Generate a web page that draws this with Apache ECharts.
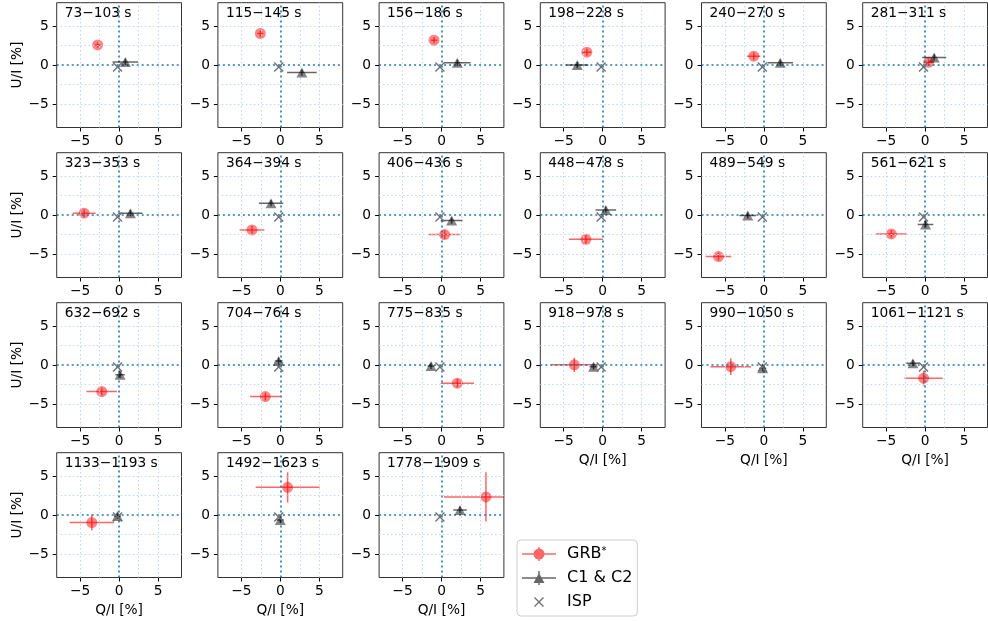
<!DOCTYPE html>
<html>
<head>
<meta charset="utf-8">
<script src="https://cdn.jsdelivr.net/npm/echarts@6/dist/echarts.min.js"></script>
<style>
html,body{margin:0;padding:0;background:#fff;}
#chart{width:988px;height:621px;}
</style>
</head>
<body>
<div id="chart"></div>
<script>
// ---- data ----
const panelLabels = ['73\u2212103 s','115\u2212145 s','156\u2212186 s','198\u2212228 s','240\u2212270 s','281\u2212311 s',
  '323\u2212353 s','364\u2212394 s','406\u2212436 s','448\u2212478 s','489\u2212549 s','561\u2212621 s',
  '632\u2212692 s','704\u2212764 s','775\u2212835 s','918\u2212978 s','990\u22121050 s','1061\u22121121 s',
  '1133\u22121193 s','1492\u22121623 s','1778\u22121909 s'];
const grbQ    = [-2.75,-2.56,-0.96,-2.03,-1.30, 0.45,-4.48,-3.63, 0.40,-2.15,-5.82,-4.33,-2.22,-1.92, 2.03,-3.64,-4.25,-0.19,-3.50, 0.94, 5.70];
const grbU    = [ 2.59, 4.05, 3.20, 1.66, 1.15, 0.35, 0.24,-1.90,-2.50,-3.10,-5.31,-2.41,-3.39,-4.03,-2.32, 0.03,-0.20,-1.68,-0.96, 3.56, 2.33];
const grbQerr = [ 0.35, 0.40, 0.40, 0.55, 0.85, 0.60, 1.47, 1.58, 2.03, 2.18, 1.64, 1.96, 1.96, 1.96, 2.13, 3.00, 2.60, 2.45, 2.84, 4.10, 5.38];
const grbUerr = [ 0.35, 0.40, 0.40, 0.45, 0.45, 0.45, 0.50, 0.50, 0.55, 0.55, 0.50, 0.50, 0.50, 0.50, 0.55, 0.90, 1.07, 0.96, 1.00, 1.94, 3.16];
const c12Q    = [ 0.80, 2.77, 2.03,-3.26, 2.10, 1.17, 1.45,-1.19, 1.30, 0.40,-2.07, 0.06, 0.13,-0.21,-1.34,-1.17,-0.15,-1.56,-0.21, 0.00, 2.37];
const c12U    = [ 0.41,-0.95, 0.30, 0.00, 0.30, 0.98, 0.24, 1.52,-0.70, 0.66,-0.05,-1.20,-1.25, 0.54,-0.10,-0.20,-0.40, 0.24,-0.10,-0.62, 0.66];
const c12Qerr = [ 1.64, 1.90, 1.70, 1.43, 1.64, 1.54, 1.56, 1.56, 1.40, 1.32, 1.07, 1.00, 0.60, 0.50, 0.45, 0.50, 0.45, 0.85, 0.45, 0.45, 0.87];
const c12Uerr = [ 0.40, 0.40, 0.40, 0.40, 0.40, 0.40, 0.40, 0.40, 0.40, 0.40, 0.40, 0.40, 0.40, 0.40, 0.40, 0.40, 0.40, 0.40, 0.40, 0.40, 0.40];
const ispQ = -0.2;
const ispU = -0.25;
const axisRange = [-8, 8];
const tickValues = [-5, 0, 5];
const gridValues = [-5, -2.5, 2.5, 5];
const xLabelText = 'Q/I [%]';
const yLabelText = 'U/I [%]';

// ---- layout ----
const colLeft = [56.7, 217.9, 379.1, 540.3, 701.5, 862.7];
const rowTop = [2.7, 152.7, 302.7, 452.7];
const size = 124.8;
const FONT = 'DejaVu Sans';
const FS = 13.75;
const nPanels = panelLabels.length;

const fmt = v => (v < 0 ? '\u2212' + Math.abs(v) : String(v));

const grids = [], xAxes = [], yAxes = [], titles = [], series = [];

function errRender(color) {
  return function (params, api) {
    const q = api.value(0), u = api.value(1), dq = api.value(2), du = api.value(3);
    const a = api.coord([q - dq, u]), b = api.coord([q + dq, u]);
    const c = api.coord([q, u - du]), d = api.coord([q, u + du]);
    const cs = params.coordSys;
    return {
      type: 'group',
      clipPath: {type: 'rect', shape: {x: cs.x, y: cs.y, width: cs.width, height: cs.height}},
      children: [
        {type: 'line', shape: {x1: a[0], y1: a[1], x2: b[0], y2: b[1]}, style: {stroke: color, lineWidth: 1.5}},
        {type: 'line', shape: {x1: c[0], y1: c[1], x2: d[0], y2: d[1]}, style: {stroke: color, lineWidth: 1.5}}
      ]
    };
  };
}
function xRender(params, api) {
  const p = api.coord([api.value(0), api.value(1)]);
  const r = 4.5;
  const st = {stroke: '#6e6e6e', lineWidth: 1.3};
  return {type: 'group', children: [
    {type: 'line', shape: {x1: p[0] - r, y1: p[1] - r, x2: p[0] + r, y2: p[1] + r}, style: st},
    {type: 'line', shape: {x1: p[0] - r, y1: p[1] + r, x2: p[0] + r, y2: p[1] - r}, style: st}
  ]};
}

for (let i = 0; i < nPanels; i++) {
  const row = Math.floor(i / 6), col = i % 6;
  grids.push({left: colLeft[col], top: rowTop[row], width: size, height: size,
    show: true, borderColor: '#333', borderWidth: 1, backgroundColor: 'transparent'});
  const hasX = i >= nPanels - 6;
  const hasY = col === 0;
  xAxes.push({type: 'value', gridIndex: i, min: axisRange[0], max: axisRange[1],
    axisLine: {show: false, onZero: false},
    axisTick: {show: true, length: 4, inside: false, customValues: tickValues, lineStyle: {color: '#000', width: 1}},
    axisLabel: {customValues: tickValues, formatter: fmt, margin: 7, fontSize: FS, fontFamily: FONT, color: '#000'},
    splitLine: {show: false},
    name: hasX ? xLabelText : '', nameLocation: 'middle', nameGap: 26,
    nameTextStyle: {fontSize: FS, fontFamily: FONT, color: '#000'}
  });
  yAxes.push({type: 'value', gridIndex: i, min: axisRange[0], max: axisRange[1],
    axisLine: {show: false, onZero: false},
    axisTick: {show: true, length: 4, inside: false, customValues: tickValues, lineStyle: {color: '#000', width: 1}},
    axisLabel: {customValues: tickValues, formatter: fmt, margin: 8, fontSize: FS, fontFamily: FONT, color: '#000'},
    splitLine: {show: false},
    name: hasY ? yLabelText : '', nameLocation: 'middle', nameGap: 32, nameRotate: 90,
    nameTextStyle: {fontSize: FS, fontFamily: FONT, color: '#000'}
  });
  titles.push({text: panelLabels[i], left: colLeft[col] + 8, top: rowTop[row] + 4, padding: 0,
    textStyle: {fontSize: FS, fontWeight: 'normal', fontFamily: FONT, color: '#000'}});

  const mlData = [];
  gridValues.forEach(v => {
    mlData.push({xAxis: v, lineStyle: {color: '#c3d6ea', width: 1, type: [1.5, 2.5]}});
    mlData.push({yAxis: v, lineStyle: {color: '#c3d6ea', width: 1, type: [1.5, 2.5]}});
  });
  mlData.push({xAxis: 0, lineStyle: {color: '#1f77b4', width: 1.6, type: [2, 3]}});
  mlData.push({yAxis: 0, lineStyle: {color: '#1f77b4', width: 1.6, type: [2, 3]}});
  series.push({type: 'scatter', xAxisIndex: i, yAxisIndex: i, data: [[0, 0]], symbolSize: 0, silent: true, z: 1,
    markLine: {silent: true, symbol: ['none', 'none'], label: {show: false}, animation: false, data: mlData}});

  series.push({type: 'custom', name: 'GRB*', xAxisIndex: i, yAxisIndex: i, z: 3, silent: true,
    renderItem: errRender('rgba(255,0,0,0.6)'), data: [[grbQ[i], grbU[i], grbQerr[i], grbUerr[i]]]});
  series.push({type: 'scatter', name: 'GRB*', xAxisIndex: i, yAxisIndex: i, z: 4, silent: true,
    symbol: 'circle', symbolSize: 11, itemStyle: {color: 'rgba(255,0,0,0.6)'}, data: [[grbQ[i], grbU[i]]]});
  series.push({type: 'custom', name: 'C1 & C2', xAxisIndex: i, yAxisIndex: i, z: 5, silent: true,
    renderItem: errRender('rgba(0,0,0,0.6)'), data: [[c12Q[i], c12U[i], c12Qerr[i], c12Uerr[i]]]});
  series.push({type: 'scatter', name: 'C1 & C2', xAxisIndex: i, yAxisIndex: i, z: 6, silent: true,
    symbol: 'triangle', symbolSize: [11, 10], itemStyle: {color: 'rgba(0,0,0,0.6)'}, data: [[c12Q[i], c12U[i]]]});
  series.push({type: 'custom', name: 'ISP', xAxisIndex: i, yAxisIndex: i, z: 7, silent: true,
    renderItem: xRender, data: [[ispQ, ispU]]});
}

const iconGRB = 'path://M0,6.25H34V7.75H0Z M11.5,7A5.5,5.5 0 1,1 22.5,7A5.5,5.5 0 1,1 11.5,7Z M16.25,0H17.75V14H16.25Z';
const iconC = 'path://M0,6.25H34V7.75H0Z M17,2L22.5,12L11.5,12Z M16.25,0H17.75V14H16.25Z';
const iconISP = 'path://M0,0M34,14M12.04,2.96L12.96,2.04L21.96,11.04L21.04,11.96Z M21.04,2.04L21.96,2.96L12.96,11.96L12.04,11.04Z';

const option = {
  animation: false,
  backgroundColor: '#fff',
  title: titles,
  grid: grids,
  xAxis: xAxes,
  yAxis: yAxes,
  legend: {
    orient: 'vertical', left: 517, top: 540,
    padding: [6, 5, 6, 5],
    itemWidth: 34, itemHeight: 14, itemGap: 8,
    borderColor: '#cccccc', borderWidth: 1, borderRadius: 4,
    backgroundColor: 'rgba(255,255,255,0.8)',
    selectedMode: false,
    textStyle: {fontSize: 16, fontFamily: FONT, color: '#000', padding: [0, 0, 0, 6],
      rich: {sup: {fontSize: 10, fontFamily: FONT, color: '#000', verticalAlign: 'top', padding: [0, 0, 6, 0]}}},
    formatter: n => (n === 'GRB*' ? 'GRB{sup|*}' : n),
    data: [
      {name: 'GRB*', icon: iconGRB, itemStyle: {color: 'rgba(255,0,0,0.6)'}},
      {name: 'C1 & C2', icon: iconC, itemStyle: {color: 'rgba(0,0,0,0.6)'}},
      {name: 'ISP', icon: iconISP, itemStyle: {color: '#6e6e6e'}}
    ]
  },
  series: series
};

const chart = echarts.init(document.getElementById('chart'), null, {renderer: 'canvas'});
chart.setOption(option);
</script>
</body>
</html>
